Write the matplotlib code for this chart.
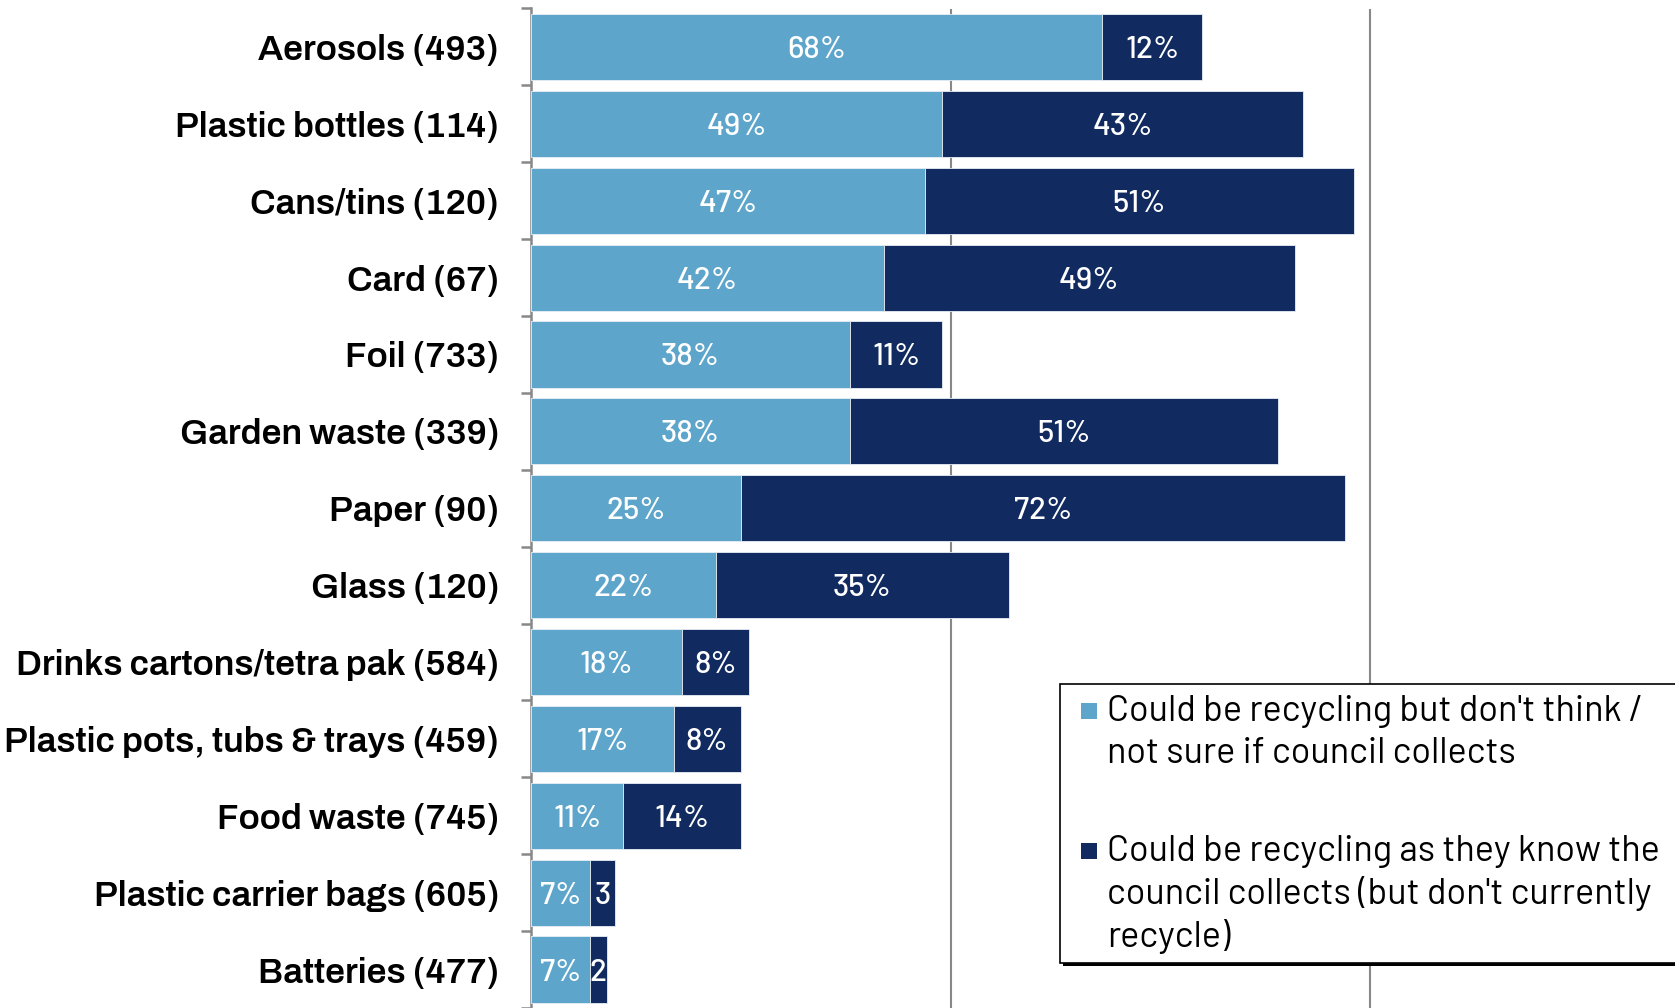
import matplotlib.pyplot as plt
from matplotlib.patches import Rectangle
import numpy as np

# Materials, with base sizes, top to bottom
materials = [
    "Aerosols (493)", "Plastic bottles (114)", "Cans/tins (120)", "Card (67)",
    "Foil (733)", "Garden waste (339)", "Paper (90)", "Glass (120)",
    "Drinks cartons/tetra pak (584)", "Plastic pots, tubs & trays (459)",
    "Food waste (745)", "Plastic carrier bags (605)", "Batteries (477)",
]
not_sure = [68, 49, 47, 42, 38, 38, 25, 22, 18, 17, 11, 7, 7]
knows_collects = [12, 43, 51, 49, 11, 51, 72, 35, 8, 8, 14, 3, 2]
series_names = [
    "Could be recycling but don't think /\nnot sure if council collects",
    "Could be recycling as they know the\ncouncil collects (but don't currently\nrecycle)",
]

light_blue = "#5da5ca"
navy = "#112b60"
label_font = ["Archivo", "DejaVu Sans"]
body_font = ["Barlow", "DejaVu Sans"]

W, H = 1675, 1008
fig = plt.figure(figsize=(W / 100, H / 100), dpi=100)
ax = fig.add_axes([531 / W, 0, 1175 / W, 1 - 8.5 / H])

y = np.arange(len(materials))
b1 = ax.barh(y, not_sure, height=0.86, color=light_blue, edgecolor="#e8eef4",
             linewidth=0.6, zorder=3)
b2 = ax.barh(y, knows_collects, left=not_sure, height=0.86, color=navy,
             edgecolor="#e8eef4", linewidth=0.6, zorder=3)


def fmt(v):
    return f"{v}%" if v >= 5 else f"{v}"


for bars, vals in ((b1, not_sure), (b2, knows_collects)):
    for rect, v in zip(bars, vals):
        cx = rect.get_x() + rect.get_width() / 2
        cy = rect.get_y() + rect.get_height() / 2
        ax.text(cx, cy, fmt(v), ha="center", va="center_baseline", color="white",
                fontsize=22.5, family=body_font, fontweight="medium", zorder=4)

ax.set_xlim(0, 140)
ax.set_ylim(len(materials) - 0.5, -0.5)

# gridlines at 50% and 100%
for gx in (50, 100):
    ax.axvline(gx, color="#888888", lw=1.5, zorder=1)

for s in ("top", "right", "bottom"):
    ax.spines[s].set_visible(False)
ax.spines["left"].set_color("#888888")
ax.spines["left"].set_linewidth(1.8)
ax.set_xticks([])

ax.set_yticks(y)
ax.set_yticklabels(materials, fontsize=25.5, family=label_font)
ax.tick_params(axis="y", which="major", length=0, pad=23)
ax.set_yticks(np.arange(-0.5, len(materials)), minor=True)
ax.tick_params(axis="y", which="minor", length=7, width=1.8, color="#888888")

# legend box with drop shadow, handles level with the first line of each entry
box_l, box_t, box_b, box_r = 1060, 684, 963, 1720
to_fig = fig.transFigure
fig.patches.append(Rectangle((box_l / W + 3 / W, 1 - box_b / H - 3 / H),
                             (box_r - box_l) / W, (box_b - box_t) / H,
                             transform=to_fig, facecolor="black", edgecolor="none", zorder=5))
fig.patches.append(Rectangle((box_l / W, 1 - box_b / H), (box_r - box_l) / W,
                             (box_b - box_t) / H, transform=to_fig, facecolor="white",
                             edgecolor="black", linewidth=1.2, zorder=6))

line_h = 42.7
entry_top = [711, 851]
for name, color, ty in zip(series_names, (light_blue, navy), entry_top):
    fig.patches.append(Rectangle((1081 / W, 1 - (ty + 8) / H), 16 / W, 16 / H,
                                 transform=to_fig, facecolor=color, edgecolor="none", zorder=7))
    for k, line in enumerate(name.split("\n")):
        fig.text(1107 / W, 1 - (ty + k * line_h) / H, line, ha="left", va="center",
                 fontsize=26, family=body_font, color="black", zorder=8)

fig.savefig("out.png", dpi=100)
